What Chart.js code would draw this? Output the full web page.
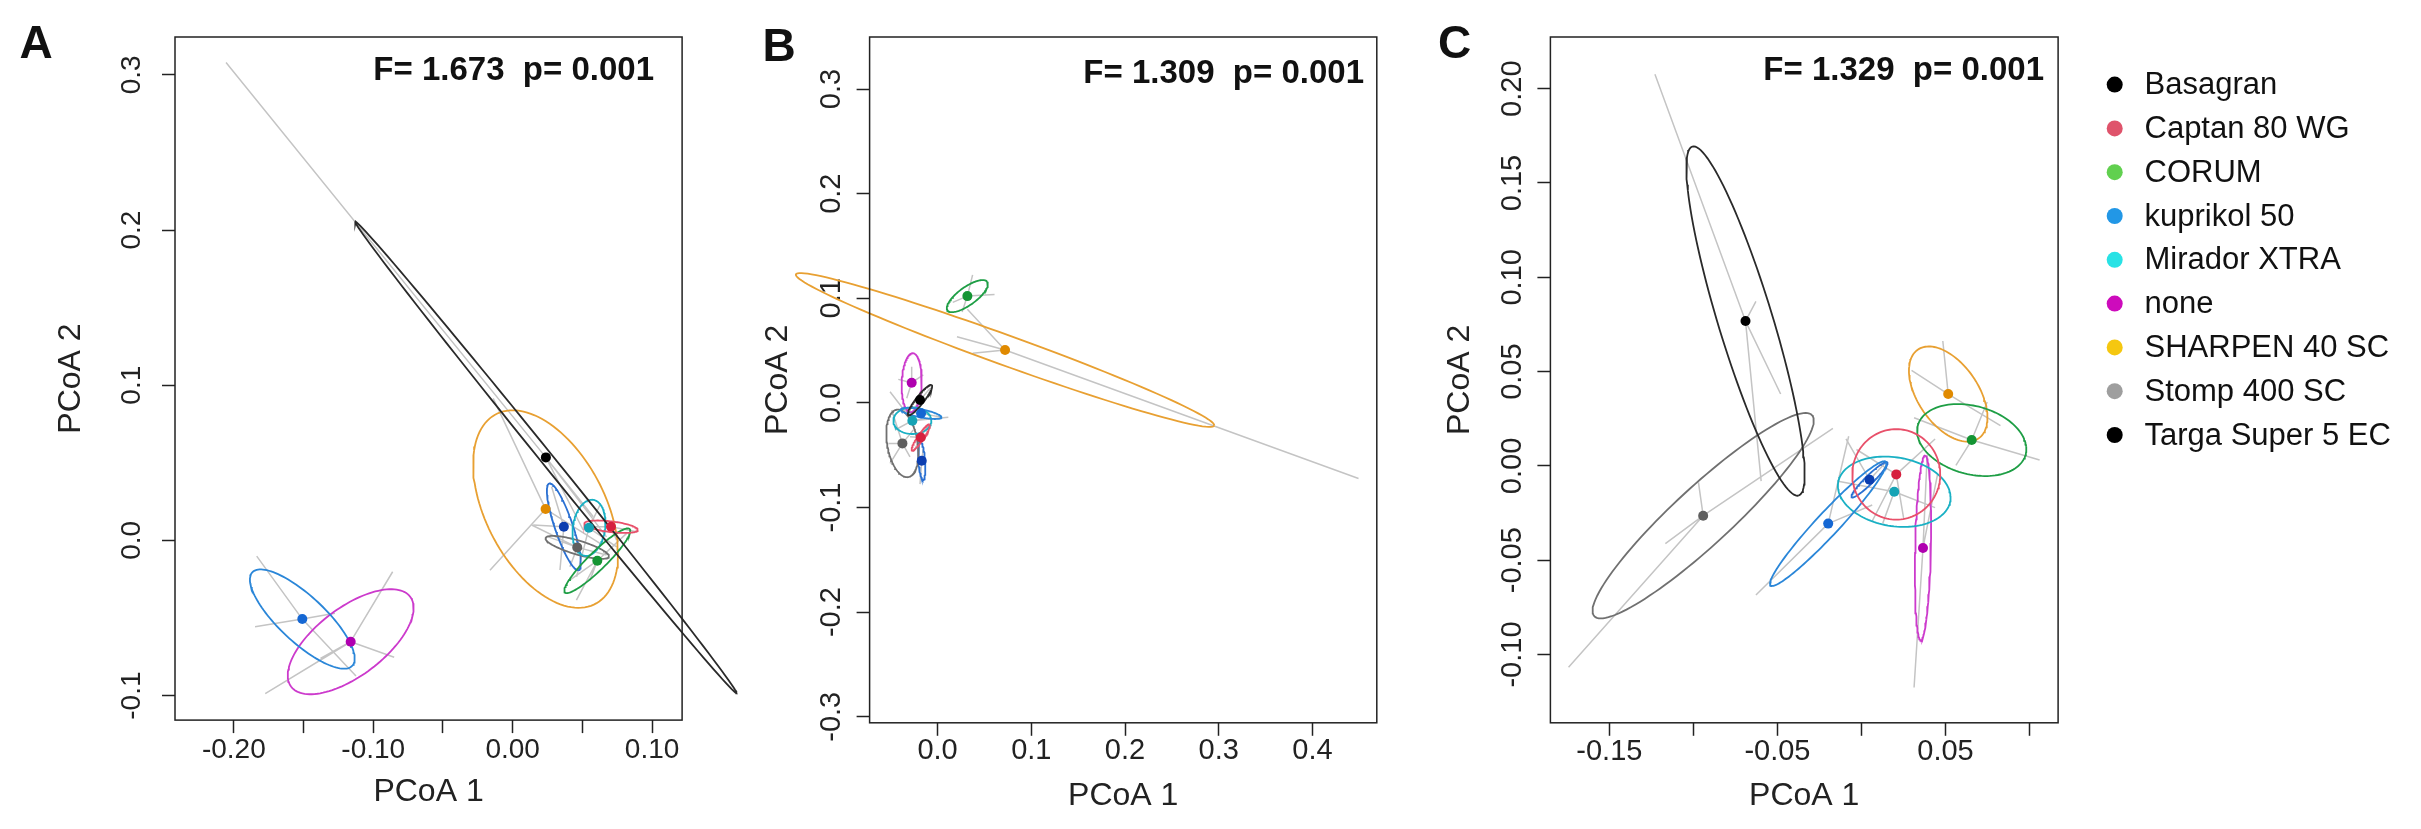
<!DOCTYPE html>
<html>
<head>
<meta charset="utf-8">
<script src="https://cdn.jsdelivr.net/npm/chart.js@4.4.1/dist/chart.umd.min.js"></script>
<style>
  html, body { margin: 0; padding: 0; background: #fff; }
  body { width: 2421px; height: 829px; position: relative; overflow: hidden; }
  canvas { position: absolute; top: 0; }
</style>
</head>
<body>
<canvas id="chartA" width="740" height="829" style="left:0px"></canvas>
<canvas id="chartB" width="690" height="829" style="left:740px"></canvas>
<canvas id="chartC" width="991" height="829" style="left:1430px"></canvas>
<script>
// groups, in legend order
const groups = ['Basagran', 'Captan 80 WG', 'CORUM', 'kuprikol 50', 'Mirador XTRA', 'none', 'SHARPEN 40 SC', 'Stomp 400 SC', 'Targa Super 5 EC'];
const legendColors = ['#000000', '#DF536B', '#61D04F', '#2297E6', '#28E2E5', '#CD0BBC', '#F5C710', '#9E9E9E', '#000000'];
const lineColors = ['#2a2a2a', '#E8506A', '#1E9E45', '#2A86D8', '#19B0C4', '#CC3ACC', '#E8A032', '#707070', '#2A70D2'];
const pointColors = ['#000000', '#D6203E', '#149433', '#1567D3', '#16A3B5', '#B000B0', '#E08A00', '#5F5F5F', '#0C3EB0'];

// ---- panel A ----
const centroidsA = [[0.0238, 0.0535], [0.0705, 0.0088], [0.0607, -0.0131], [-0.1509, -0.0507], [0.0547, 0.0081], [-0.1162, -0.0653], [0.0236, 0.0202], [0.0463, -0.0045], [0.0367, 0.0088]];
// ellipse half-axes: [ux, uy, vx, vy]
const ellipsesA = [[0.1368, -0.1520, 0.00346, 0.00251], [0.0192, -0.00193, -0.00043, 0.00352], [0.02323, 0.02043, 0.00452, -0.00413], [0.03586, -0.0301, 0.01126, 0.01083], [0.00287, 0.01804, 0.01147, -0.00129], [0.04267, 0.0290, 0.0147, -0.01746], [0.03657, -0.06064, 0.03693, 0.01933], [0.0227, -0.0060, 0.00141, 0.00432], [0.01054, -0.0279, 0.0061, 0.00187]];
const spidersA = [
  [[-0.2056, 0.308], [0.0578, 0.0152], [0.0673, 0.0023], [0.0506, 0.0067]],
  [[0.053, 0.0088], [0.0889, 0.0056], [0.0745, 0.0002]],
  [[0.0817, 0.0045], [0.041, -0.0256], [0.0554, -0.0256], [0.0457, -0.0385]],
  [[-0.1836, -0.0101], [-0.1848, -0.0556], [-0.1275, -0.047], [-0.1124, -0.0874]],
  [[0.0626, 0.0228], [0.0458, -0.0234], [0.0745, -0.0041]],
  [[-0.0861, -0.0202], [-0.085, -0.0753], [-0.1379, -0.076], [-0.1775, -0.0988]],
  [[-0.0163, -0.0192], [-0.014, 0.0915], [0.0626, -0.0019]],
  [[0.0255, 0.0023], [0.0673, -0.0094], [0.041, -0.017], [0.0136, 0.0099]],
  [[0.0147, 0.0099], [0.0339, -0.0191], [0.0279, 0.0346]]
];
const xTicksA = [-0.20, -0.15, -0.10, -0.05, 0.00, 0.05, 0.10];
const xLabelsA = ['-0.20', '', '-0.10', '', '0.00', '', '0.10'];
const yTicksA = [-0.1, 0.0, 0.1, 0.2, 0.3];
const yLabelsA = ['-0.1', '0.0', '0.1', '0.2', '0.3'];

// ---- panel B ----
const centroidsB = [[-0.0187, 0.0028], [-0.0179, -0.0330], [0.0318, 0.1021], [-0.0176, -0.0100], [-0.0269, -0.0170], [-0.0276, 0.0193], [0.0720, 0.0506], [-0.0375, -0.0387], [-0.0169, -0.0553]];
const ellipsesB = [[0.01248, 0.01434, 0.00337, -0.00235], [0.00939, 0.01243, 0.00266, -0.00162], [0.0212, 0.01367, 0.00555, -0.00698], [0.02166, -0.00382, 0.00082, 0.00375], [0.02027, 0, 0, 0.01272], [0.00107, 0.0282, 0.01067, 0], [0.2231, -0.0723, 0.00544, 0.01348], [-0.00619, 0.03222, 0.016, 0.00249], [0.0016, -0.01836, 0.00352, 0.0003]];
const spidersB = [
  [[-0.0276, -0.0094], [-0.008, 0.0139]],
  [[-0.0258, -0.0467], [-0.0098, -0.0212], [-0.0294, -0.0323]],
  [[0.0374, 0.1224], [0.0608, 0.1036], [0.0162, 0.0961], [0.0262, 0.087]],
  [[-0.0382, -0.0075], [0.0044, -0.0138]],
  [[-0.0507, 0.0107], [-0.0454, -0.0259], [0.0115, -0.0138], [-0.0152, -0.0148]],
  [[-0.0419, 0.0225], [-0.0276, 0.0346], [-0.0152, 0.0267], [-0.0329, 0.0044]],
  [[0.0207, 0.0632], [0.0374, 0.0475], [0.0318, 0.0895], [0.4491, -0.0723]],
  [[-0.0507, -0.0578], [-0.0525, -0.0387], [-0.0258, -0.0259], [-0.0294, -0.0515], [-0.0489, -0.0068]],
  [[-0.0187, -0.0776], [-0.0152, -0.0434]]
];
const xTicksB = [0.0, 0.1, 0.2, 0.3, 0.4];
const xLabelsB = ['0.0', '0.1', '0.2', '0.3', '0.4'];
const yTicksB = [-0.3, -0.2, -0.1, 0.0, 0.1, 0.2, 0.3];
const yLabelsB = ['-0.3', '-0.2', '-0.1', '0.0', '0.1', '0.2', '0.3'];

// ---- panel C ----
const centroidsC = [[-0.069, 0.0768], [0.0207, -0.0045], [0.0656, 0.0137], [-0.0198, -0.0306], [0.0195, -0.0137], [0.0366, -0.0435], [0.0516, 0.0381], [-0.0942, -0.0264], [0.0048, -0.0073]];
const ellipsesC = [[0.03162, -0.09251, 0.01548, 0.00429], [0.02617, 0, 0, 0.02397], [0.0324, -0.00336, -0.00249, 0.01878], [0.03427, 0.0328, 0.005, -0.0042], [0.03349, -0.00224, -0.00156, 0.0185], [0.00125, 0.04906, 0.00467, 0], [0.01813, -0.02349, 0.01473, 0.0092], [0.0648, 0.05327, 0.01153, -0.01138], [0.01059, 0.00925, 0.00174, -0.0016]];
const spidersC = [
  [[-0.1229, 0.2077], [-0.0481, 0.0381], [-0.0597, -0.0081], [-0.0628, 0.0872]],
  [[0.0438, 0.0143], [0.0064, -0.0292], [0.0251, -0.0278], [-0.003, 0.0087]],
  [[0.106, 0.0031], [0.0313, 0.0255], [0.0562, 0.0003], [0.0748, 0.0339]],
  [[-0.0628, -0.0684], [-0.0076, 0.0157], [0.0064, -0.0207]],
  [[-0.0139, -0.0081], [0.0438, -0.0221], [0.0126, -0.0306]],
  [[0.0313, -0.1175], [0.0391, 0.0059], [0.0453, -0.0044]],
  [[0.0484, 0.0662], [0.0298, 0.0507], [0.0827, 0.0213]],
  [[-0.1167, -0.0412], [-0.097, -0.0087], [-0.017, 0.0199], [-0.1743, -0.1068]],
  [[-0.0092, 0.0143], [0.0151, 0.0025]]
];
const xTicksC = [-0.15, -0.10, -0.05, 0.00, 0.05, 0.10];
const xLabelsC = ['-0.15', '', '-0.05', '', '0.05', ''];
const yTicksC = [-0.10, -0.05, 0.00, 0.05, 0.10, 0.15, 0.20];
const yLabelsC = ['-0.10', '-0.05', '0.00', '0.05', '0.10', '0.15', '0.20'];

const FONT = 'Liberation Sans';
const INK = '#222';

function buildDatasets(centroids, ellipses, spiders) {
  const sets = [];
  groups.forEach((g, i) => {
    const [cx, cy] = centroids[i];
    const spider = [];
    spiders[i].forEach(([x, y]) => {
      spider.push({x: cx, y: cy}, {x: x, y: y}, {x: null, y: null});
    });
    sets.push({label: g + ' spider', data: spider, showLine: true, borderColor: '#C4C4C4',
      borderWidth: 1.5, pointRadius: 0, order: 3, clip: false});
    const [ux, uy, vx, vy] = ellipses[i];
    const ring = [];
    for (let k = 0; k <= 120; k++) {
      const t = k / 120 * 2 * Math.PI;
      ring.push({x: cx + ux * Math.cos(t) + vx * Math.sin(t), y: cy + uy * Math.cos(t) + vy * Math.sin(t)});
    }
    sets.push({label: g + ' ellipse', data: ring, showLine: true, borderColor: lineColors[i],
      borderWidth: 1.8, pointRadius: 0, order: 2, clip: false});
  });
  groups.forEach((g, i) => {
    sets.push({label: g, data: [{x: centroids[i][0], y: centroids[i][1]}], pointRadius: 5,
      pointBackgroundColor: pointColors[i], pointBorderWidth: 0, order: 1, clip: false});
  });
  return sets;
}

const gridOpts = {display: true, drawOnChartArea: false, drawTicks: true, tickLength: 13, tickColor: INK, tickWidth: 1.5};

function makeScales(p) {
  return {
    x: {
      type: 'linear', min: p.xMin, max: p.xMax,
      afterBuildTicks: ax => { ax.ticks = p.xTicks.map(v => ({value: v})); },
      afterFit: ax => { ax.height = p.xAxisH; },
      grid: gridOpts,
      border: {display: false},
      ticks: {autoSkip: false, minRotation: 0, maxRotation: 0, padding: p.xTickPad, color: INK,
        font: {family: FONT, size: p.tickSize}, callback: (v, i) => p.xLabels[i]},
      title: {display: true, text: 'PCoA 1', color: INK, font: {family: FONT, size: 32},
        padding: {top: 0, bottom: p.xTitlePad}}
    },
    y: {
      type: 'linear', min: p.yMin, max: p.yMax,
      afterBuildTicks: ax => { ax.ticks = p.yTicks.map(v => ({value: v})); },
      afterFit: ax => { ax.width = p.yAxisW; },
      grid: gridOpts,
      border: {display: false},
      ticks: {autoSkip: false, minRotation: 90, maxRotation: 90, crossAlign: 'center', padding: p.yTickPad,
        color: INK, font: {family: FONT, size: p.tickSize}, callback: (v, i) => p.yLabels[i]},
      title: {display: true, text: 'PCoA 2', color: INK, font: {family: FONT, size: 32},
        padding: {top: p.yTitlePad, bottom: 0}}
    }
  };
}

// box, statistic text and panel letter
const framePlugin = {
  id: 'frame',
  afterDraw(chart, args, o) {
    const {ctx, chartArea: a} = chart;
    ctx.save();
    ctx.strokeStyle = INK;
    ctx.lineWidth = 1.5;
    ctx.strokeRect(a.left, a.top, a.right - a.left, a.bottom - a.top);
    ctx.fillStyle = '#111';
    ctx.textBaseline = 'alphabetic';
    ctx.font = 'bold 33px "' + FONT + '"';
    ctx.textAlign = 'right';
    ctx.fillText(o.stat, o.statX, o.statY);
    ctx.font = 'bold 46px "' + FONT + '"';
    ctx.textAlign = 'center';
    ctx.fillText(o.letter, o.letterX, o.letterY);
    ctx.restore();
  }
};

// legend beside panel C
const legendPlugin = {
  id: 'sideLegend',
  afterDraw(chart, args, o) {
    if (!o.show) return;
    const ctx = chart.ctx;
    ctx.save();
    ctx.font = '31px "' + FONT + '"';
    ctx.textAlign = 'left';
    ctx.textBaseline = 'middle';
    groups.forEach((g, i) => {
      const y = o.y0 + i * o.step;
      ctx.fillStyle = legendColors[i];
      ctx.beginPath();
      ctx.arc(o.dotX, y, 8, 0, 2 * Math.PI);
      ctx.fill();
      ctx.fillStyle = '#111';
      ctx.fillText(g, o.textX, y + 1);
    });
    ctx.restore();
  }
};

function drawPanel(id, datasets, p, frame, legend) {
  new Chart(document.getElementById(id), {
    type: 'scatter',
    data: {datasets: datasets},
    options: {
      responsive: false,
      animation: false,
      devicePixelRatio: 1,
      events: [],
      layout: {padding: {left: 0, top: 37, right: p.padRight, bottom: 0}},
      scales: makeScales(p),
      plugins: {
        legend: {display: false},
        tooltip: {enabled: false},
        frame: frame,
        sideLegend: legend || {show: false}
      }
    },
    plugins: [framePlugin, legendPlugin]
  });
}

drawPanel('chartA', buildDatasets(centroidsA, ellipsesA, spidersA), {
  xMin: -0.2422, xMax: 0.1215, yMin: -0.1158, yMax: 0.3244,
  xTicks: xTicksA, xLabels: xLabelsA, yTicks: yTicksA, yLabels: yLabelsA,
  yAxisW: 175, padRight: 57.9, xAxisH: 108.9, tickSize: 28,
  xTickPad: 0, yTickPad: 6, xTitlePad: 18, yTitlePad: 52
}, {stat: 'F= 1.673  p= 0.001', statX: 654, statY: 80, letter: 'A', letterX: 36, letterY: 58});

drawPanel('chartB', buildDatasets(centroidsB, ellipsesB, spidersB), {
  xMin: -0.0725, xMax: 0.4686, yMin: -0.3058, yMax: 0.3498,
  xTicks: xTicksB, xLabels: xLabelsB, yTicks: yTicksB, yLabels: yLabelsB,
  yAxisW: 129.6, padRight: 53.2, xAxisH: 106.2, tickSize: 29,
  xTickPad: -2, yTickPad: 0, xTitlePad: 14, yTitlePad: 19
}, {stat: 'F= 1.309  p= 0.001', statX: 624, statY: 83, letter: 'B', letterX: 39, letterY: 61});

drawPanel('chartC', buildDatasets(centroidsC, ellipsesC, spidersC), {
  xMin: -0.1851, xMax: 0.1170, yMin: -0.1362, yMax: 0.2274,
  xTicks: xTicksC, xLabels: xLabelsC, yTicks: yTicksC, yLabels: yLabelsC,
  yAxisW: 120.4, padRight: 362.9, xAxisH: 106.2, tickSize: 29,
  xTickPad: -1, yTickPad: -9, xTitlePad: 14, yTitlePad: 11
}, {stat: 'F= 1.329  p= 0.001', statX: 614, statY: 80, letter: 'C', letterX: 24.5, letterY: 58},
{show: true, dotX: 684.7, textX: 714.5, y0: 84.6, step: 43.8});
</script>
</body>
</html>
